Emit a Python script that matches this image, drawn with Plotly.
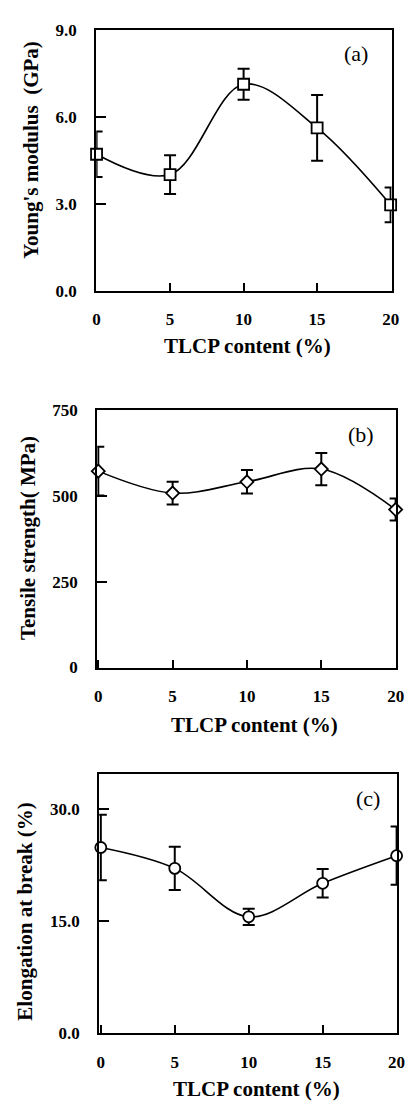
import plotly.graph_objects as go

# ---- data ----
tlcp = [0, 5, 10, 15, 20]

young_mean = [4.71, 4.01, 7.12, 5.62, 2.97]
young_err = [0.78, 0.67, 0.53, 1.13, 0.60]

tensile_mean = [572, 508, 541, 578, 460]
tensile_err = [71, 33, 34, 47, 32]

elong_mean = [24.9, 22.1, 15.6, 20.1, 23.8]
elong_err = [4.4, 2.9, 1.1, 1.9, 3.9]

x_ticks = [0, 5, 10, 15, 20]
young_ticks = [0, 3, 6, 9]
tensile_ticks = [0, 250, 500, 750]
elong_ticks = [0, 15, 30]

W, H = 417, 1109
SERIF = "Liberation Serif"


def fx(px):
    return px / W


def fy(py):
    return 1 - py / H


panels = [
    dict(x=tlcp, y=young_mean, e=young_err, sym="square", size=11,
         xdom=[95, 399], ydom=[21, 287], xr=[-0.02, 20.06], yr=[0, 9],
         yt=young_ticks, fmt=".1f", label="(a)", lab_xy=(362, 45),
         ytitle="Young's modulus  (GPa)", ytitle_xy=(27, 143),
         xtitle_xy=(251, 343)),
    dict(x=tlcp, y=tensile_mean, e=tensile_err, sym="diamond", size=10,
         xdom=[96, 404], ydom=[408, 670], xr=[-0.07, 20.05], yr=[0, 750],
         yt=tensile_ticks, fmt="d", label="(b)", lab_xy=(368, 433),
         ytitle="Tensile strength( MPa)", ytitle_xy=(25, 538),
         xtitle_xy=(258, 728)),
    dict(x=tlcp, y=elong_mean, e=elong_err, sym="circle", size=11,
         xdom=[98, 405], ydom=[778, 1042], xr=[-0.11, 20.05], yr=[0, 34.8],
         yt=elong_ticks, fmt=".1f", label="(c)", lab_xy=(375, 803),
         ytitle="Elongation at break (%)", ytitle_xy=(22, 918),
         xtitle_xy=(260, 1099)),
]

fig = go.Figure()
annotations = []
layout = {}

for i, p in enumerate(panels, start=1):
    sx = "" if i == 1 else str(i)
    fig.add_trace(go.Scatter(
        x=p["x"], y=p["y"],
        xaxis="x" + sx, yaxis="y" + sx,
        mode="lines+markers",
        line=dict(color="black", width=1.6, shape="spline", smoothing=1.0),
        marker=dict(symbol=p["sym"], size=p["size"], color="white",
                    line=dict(color="black", width=1.8)),
        error_y=dict(type="data", array=p["e"], visible=True,
                     color="black", thickness=2, width=6),
        cliponaxis=False,
        showlegend=False,
    ))
    layout["xaxis" + sx] = dict(
        domain=[fx(p["xdom"][0]), fx(p["xdom"][1])],
        anchor="y" + sx, range=p["xr"],
        tickmode="array", tickvals=x_ticks,
        ticks="inside", ticklen=8, tickwidth=2, tickcolor="black",
        showline=True, linecolor="black", linewidth=2, mirror=True,
        showgrid=False, zeroline=False,
        tickfont=dict(family=SERIF, size=17, color="black", weight="bold"),
        ticklabelstandoff=12,
    )
    layout["yaxis" + sx] = dict(
        domain=[fy(p["ydom"][1]), fy(p["ydom"][0])],
        anchor="x" + sx, range=p["yr"],
        tickmode="array", tickvals=p["yt"], tickformat=p["fmt"],
        ticks="inside", ticklen=10, tickwidth=2, tickcolor="black",
        showline=True, linecolor="black", linewidth=2, mirror=True,
        showgrid=False, zeroline=False,
        tickfont=dict(family=SERIF, size=17, color="black", weight="bold"),
        ticklabelstandoff=14,
    )
    annotations.append(dict(
        text=p["label"], x=fx(p["lab_xy"][0]), y=fy(p["lab_xy"][1]),
        xref="paper", yref="paper", showarrow=False,
        xanchor="center", yanchor="middle",
        font=dict(family=SERIF, size=22, color="black")))
    annotations.append(dict(
        text=p["ytitle"], x=fx(p["ytitle_xy"][0]), y=fy(p["ytitle_xy"][1]),
        xref="paper", yref="paper", showarrow=False, textangle=-90,
        xanchor="center", yanchor="middle",
        font=dict(family=SERIF, size=21, color="black", weight="bold")))
    annotations.append(dict(
        text="TLCP content (%)", x=fx(p["xtitle_xy"][0]), y=fy(p["xtitle_xy"][1]),
        xref="paper", yref="paper", showarrow=False,
        xanchor="center", yanchor="middle",
        font=dict(family=SERIF, size=21, color="black", weight="bold")))

fig.update_layout(
    width=W, height=H,
    margin=dict(l=0, r=0, t=0, b=0),
    paper_bgcolor="white", plot_bgcolor="white",
    annotations=annotations,
    **layout,
)

fig.write_html("out.html")
